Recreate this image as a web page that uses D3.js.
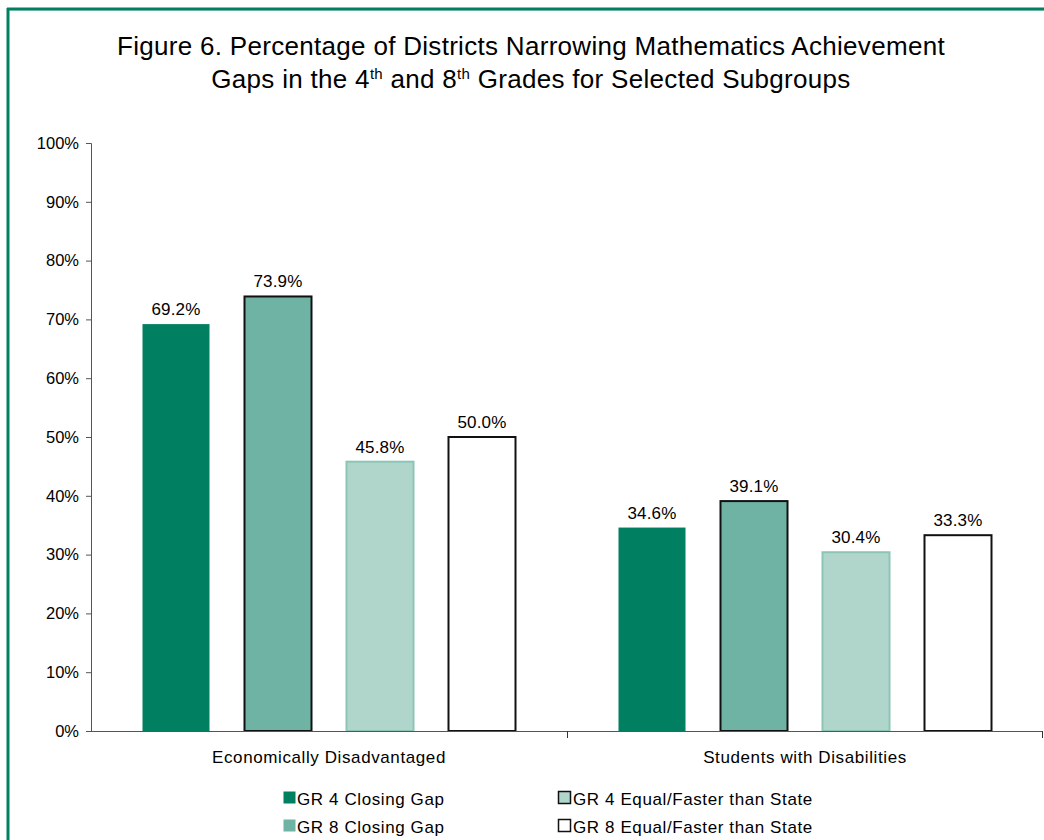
<!DOCTYPE html>
<html>
  <head>
    <title>Figure 6</title>
    <script src="https://d3js.org/d3.v7.min.js"></script>
  </head>
  <style>
    body {
      margin: 0;
      background-color: #fff;
      font-family: 'Liberation Sans', Arial, Helvetica, sans-serif;
    }
    .axis path, .axis line { stroke: #555; }
  </style>

  <body>
    <svg></svg>

    <script>

      var categories = ['Economically Disadvantaged', 'Students with Disabilities'];
      var series = ['GR 4 Closing Gap', 'GR 8 Closing Gap', 'GR 4 Equal/Faster than State', 'GR 8 Equal/Faster than State'];
      // values per category, in series order as drawn left to right
      var econValues = [69.2, 73.9, 45.8, 50.0];
      var swdValues = [34.6, 39.1, 30.4, 33.3];
      var yTicks = [0, 10, 20, 30, 40, 50, 60, 70, 80, 90, 100];

      var fills = ['#008060', '#6fb3a5', '#b0d6cc', '#ffffff'];
      var strokes = ['none', '#111', '#8cc4b6', '#111'];

      var width = 1044;
      var height = 840;
      var margin = { left: 91, right: 1, top: 143, bottom: 109 };

      var svg = d3.select('svg')
        .attr('width', width)
        .attr('height', height);

      // green frame
      svg.append('line').attr('x1', 8).attr('x2', 8).attr('y1', 8).attr('y2', height)
        .style('stroke', '#008060').style('stroke-width', 3);
      svg.append('line').attr('x1', 7).attr('x2', width).attr('y1', 9).attr('y2', 9)
        .style('stroke', '#008060').style('stroke-width', 3);
      svg.append('line').attr('x1', 10).attr('x2', width).attr('y1', 10.5).attr('y2', 10.5)
        .style('stroke', '#6fb3a5').style('stroke-width', 1);

      // title
      var title = svg.append('text')
        .attr('text-anchor', 'middle')
        .style('font-size', '26px')
        .style('letter-spacing', '0.3px');
      title.append('tspan').attr('x', 531).attr('y', 55)
        .text('Figure 6. Percentage of Districts Narrowing Mathematics Achievement');
      var t2 = title.append('tspan').attr('x', 531).attr('y', 88);
      t2.append('tspan').text('Gaps in the 4');
      t2.append('tspan').attr('dy', -9).style('font-size', '15px').text('th');
      t2.append('tspan').attr('dy', 9).text(' and 8');
      t2.append('tspan').attr('dy', -9).style('font-size', '15px').text('th');
      t2.append('tspan').attr('dy', 9).text(' Grades for Selected Subgroups');

      var data = [
        { cat: categories[0], values: econValues },
        { cat: categories[1], values: swdValues }
      ];

      var x0 = d3.scaleBand()
        .domain(categories)
        .range([margin.left, width - margin.right]);

      var x1 = d3.scaleBand()
        .domain(series)
        .range([0, x0.bandwidth()])
        .paddingInner(1 / 3)
        .paddingOuter(0.5);

      var y = d3.scaleLinear()
        .domain([0, 100])
        .range([height - margin.bottom, margin.top]);

      // bars
      var groups = svg.selectAll('.group')
        .data(data)
        .enter().append('g')
        .attr('class', 'group')
        .attr('transform', function (d) { return 'translate(' + x0(d.cat) + ',0)'; });

      var bars = groups.selectAll('.bar')
        .data(function (d) { return d.values.map(function (v, i) { return { s: series[i], v: v, i: i }; }); })
        .enter();

      bars.append('rect')
        .attr('x', function (d) { return x1(d.s) + 0.5; })
        .attr('y', function (d) { return y(d.v); })
        .attr('width', x1.bandwidth() - 1)
        .attr('height', function (d) { return y(0) - y(d.v); })
        .style('fill', function (d) { return fills[d.i]; })
        .style('stroke', function (d) { return strokes[d.i]; })
        .style('stroke-width', 2);

      bars.append('text')
        .attr('x', function (d) { return x1(d.s) + x1.bandwidth() / 2; })
        .attr('y', function (d) { return y(d.v) - 9; })
        .attr('text-anchor', 'middle')
        .style('font-size', '17px')
        .style('letter-spacing', '0.2px')
        .text(function (d) { return d.v.toFixed(1) + '%'; });

      // y axis
      var yAxis = svg.append('g')
        .attr('class', 'axis')
        .attr('transform', 'translate(' + margin.left + ',0)')
        .call(d3.axisLeft(y).tickValues(yTicks).tickSize(5).tickSizeOuter(5)
          .tickFormat(function (d) { return d + '%'; }));
      yAxis.selectAll('text')
        .attr('dx', '-4')
        .style('font-family', "'Liberation Sans', Arial, sans-serif")
        .style('font-size', '16.5px')
        .style('fill', '#000');

      // x axis with ticks between categories
      svg.append('line')
        .attr('x1', margin.left).attr('x2', width - margin.right)
        .attr('y1', y(0) + 0.5).attr('y2', y(0) + 0.5)
        .style('stroke', '#555');
      var bounds = [x0(categories[1]), width - margin.right - 1];
      svg.selectAll('.xtick')
        .data(bounds)
        .enter().append('line')
        .attr('x1', function (d) { return d + 0.5; })
        .attr('x2', function (d) { return d + 0.5; })
        .attr('y1', y(0)).attr('y2', y(0) + 7)
        .style('stroke', '#333');

      svg.selectAll('.xlabel')
        .data(categories)
        .enter().append('text')
        .attr('x', function (d) { return x0(d) + x0.bandwidth() / 2; })
        .attr('y', y(0) + 32)
        .attr('text-anchor', 'middle')
        .style('font-size', '17px')
        .style('letter-spacing', '0.6px')
        .text(function (d) { return d; });

      // legend, laid out the way the original shows it
      var legendItems = [
        { name: series[0], fill: fills[0], stroke: 'none', x: 283, y: 805 },
        { name: series[1], fill: fills[1], stroke: 'none', x: 283, y: 833 },
        { name: series[2], fill: fills[2], stroke: '#111', x: 558, y: 805 },
        { name: series[3], fill: fills[3], stroke: '#111', x: 558, y: 833 }
      ];

      var legend = svg.selectAll('.legend')
        .data(legendItems)
        .enter().append('g')
        .attr('transform', function (d) { return 'translate(' + d.x + ',' + d.y + ')'; });

      legend.append('rect')
        .attr('x', 0.5).attr('y', -13.5)
        .attr('width', 12).attr('height', 12)
        .style('fill', function (d) { return d.fill; })
        .style('stroke', function (d) { return d.stroke; })
        .style('stroke-width', 1.5);

      legend.append('text')
        .attr('x', function (d) { return d.stroke === 'none' ? 14 : 15; })
        .attr('y', 0)
        .style('font-size', '17px')
        .style('letter-spacing', '0.6px')
        .text(function (d) { return d.name; });

    </script>
  </body>
</html>
